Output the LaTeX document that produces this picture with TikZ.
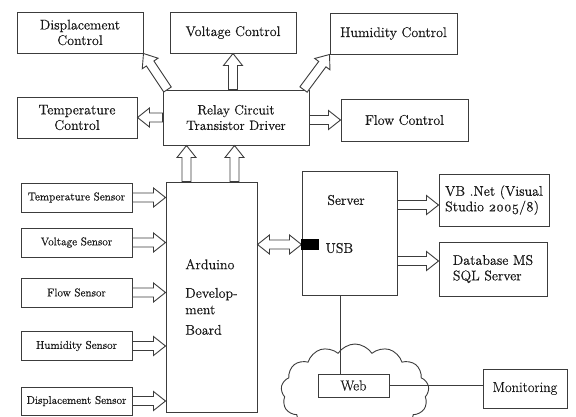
\documentclass[tikz,border=0pt]{standalone}
\usepackage{fontspec}
\setmainfont{Latin Modern Roman}[FakeBold=0.45]
\usetikzlibrary{calc,shapes.symbols}
\definecolor{linec}{HTML}{3C3C3C}
\definecolor{txtc}{HTML}{1A1A1A}
\tikzset{
  box/.style={draw=linec, line width=1pt, fill=white, inner sep=0pt, align=center,
    text=txtc, font=\fontsize{14}{15.5}\selectfont},
  sbox/.style={box, minimum width=111pt, minimum height=29pt, font=\fontsize{11.3}{13}\selectfont},
  arr/.style={draw=linec, line width=0.9pt, fill=white, line join=miter},
  conn/.style={draw=linec, line width=0.9pt},
}
% hollow block arrow from #1 to #2
\newcommand\barrow[2]{%
  \coordinate (ba) at (#1); \coordinate (bb) at (#2);
  \coordinate (bn) at ($(bb)!12pt!(ba)$);
  \path[arr] ($(ba)!4.5pt!90:(bb)$) -- ($(bn)!4.5pt!90:(bb)$) -- ($(bn)!9.5pt!90:(bb)$) -- (bb)
    -- ($(bn)!9.5pt!-90:(bb)$) -- ($(bn)!4.5pt!-90:(bb)$) -- ($(ba)!4.5pt!-90:(bb)$) -- cycle;}
% hollow double block arrow between #1 and #2
\newcommand\dbarrow[2]{%
  \coordinate (ba) at (#1); \coordinate (bb) at (#2);
  \coordinate (bn) at ($(bb)!12pt!(ba)$); \coordinate (bm) at ($(ba)!12pt!(bb)$);
  \path[arr] (ba) -- ($(bm)!9.5pt!90:(bb)$) -- ($(bm)!4.5pt!90:(bb)$) -- ($(bn)!4.5pt!90:(bb)$) -- ($(bn)!9.5pt!90:(bb)$) -- (bb)
    -- ($(bn)!9.5pt!-90:(bb)$) -- ($(bn)!4.5pt!-90:(bb)$) -- ($(bm)!4.5pt!-90:(bb)$) -- ($(bm)!9.5pt!-90:(bb)$) -- cycle;}
\begin{document}
\begin{tikzpicture}[x=1pt,y=-1pt]
\useasboundingbox (0,0) rectangle (576,416);
\clip (0,0) rectangle (576,416);
\fill[white] (0,0) rectangle (576,416);

% top control boxes
\node[box, minimum width=126pt, minimum height=41pt] (dispc) at (80,32.5) {Displacement\\Control};
\node[box, minimum width=126pt, minimum height=41pt] (voltc) at (233,32.5) {Voltage Control};
\node[box, minimum width=127pt, minimum height=41pt] (humc) at (393.5,33.5) {Humidity Control};
\node[box, minimum width=120pt, minimum height=41pt] (tempc) at (77,117.5) {Temperature\\Control};
\node[box, minimum width=146pt, minimum height=55pt, font=\fontsize{13.5}{15.5}\selectfont] (relay) at (236,117.5) {Relay Circuit\\Transistor Driver};
\node[box, minimum width=127pt, minimum height=42pt] (flowc) at (404.5,120) {Flow Control};

% arduino
\node[box, minimum width=91pt, minimum height=230pt, align=left] (ard) at (211.5,297)
  {Arduino\\[13pt]Develop-\\[1pt]ment\\[5pt]Board};

% sensors
\node[sbox] (s1) at (76.5,197.5) {Temperature Sensor};
\node[sbox] (s2) at (76.5,242.5) {Voltage Sensor};
\node[sbox] (s3) at (76.5,292.5) {Flow Sensor};
\node[sbox] (s4) at (76.5,346) {Humidity Sensor};
\node[sbox, minimum height=28pt] (s5) at (76.5,401) {Displacement Sensor};

% server side
\node[box, minimum width=95pt, minimum height=124pt] (srv) at (349.5,233) {};
\node[text=txtc, font=\fontsize{14}{15}\selectfont] (srvt) at (346,200) {Server};
\node[box, minimum width=110pt, minimum height=52pt, align=left] (vb) at (494,200) {VB .Net (Visual\\Studio \oldstylenums{2005/8})};
\node[box, minimum width=108pt, minimum height=54pt, align=left] (db) at (493,269) {Database MS\\SQL Server};

% cloud, web, monitoring
\node[cloud, cloud puffs=13, cloud puff arc=115, draw=linec, line width=0.9pt, fill=white,
  minimum width=148pt, minimum height=96pt, inner sep=0pt] (cloud) at (355,392) {};
\node[box, minimum width=71pt, minimum height=23pt, font=\fontsize{14.5}{15}\selectfont] (web) at (353.5,385.5) {Web};
\node[box, minimum width=84pt, minimum height=39pt, font=\fontsize{14.5}{15}\selectfont] (mon) at (525,388.5) {Monitoring};

% block arrows from relay
\barrow{$(relay.north west)+(5,0)$}{dispc.south east}
\barrow{voltc.south |- relay.north}{voltc.south}
\barrow{$(relay.north east)+(-6,0)$}{humc.south west}
\barrow{relay.west |- tempc.east}{tempc.east}
\barrow{relay.east |- flowc.west}{flowc.west}

% arduino to relay
\barrow{$(ard.north west)+(21,0)$}{$(relay.south west)+(24,0)$}
\barrow{$(ard.north west)+(69,0)$}{$(relay.south west)+(72,0)$}

% sensors to arduino
\foreach \s in {s1,s2,s3,s4,s5}{\barrow{\s.east}{ard.west |- \s.east}}

% arduino <-> server (USB)
\coordinate (uc) at (310,244.5);
\dbarrow{ard.east |- uc}{srv.west |- uc}
\node[fill=black, minimum width=18pt, minimum height=11pt, inner sep=0pt] (usb) at (uc) {};
\node[text=txtc, font=\fontsize{14}{15}\selectfont, anchor=west] (usbt) at (322,248) {USB};

% server to outputs
\barrow{$(srv.east |- vb.west)+(0,5)$}{$(vb.west)+(0,5)$}
\barrow{$(srv.east |- db.west)+(0,-8)$}{$(db.west)+(0,-8)$}

% web connections
\coordinate (wl) at ($(web.north west)+(23,0)$);
\draw[conn] (wl |- srv.south) -- (wl);
\draw[conn] (web.east) -- (mon.west |- web.east);
\end{tikzpicture}
\end{document}
